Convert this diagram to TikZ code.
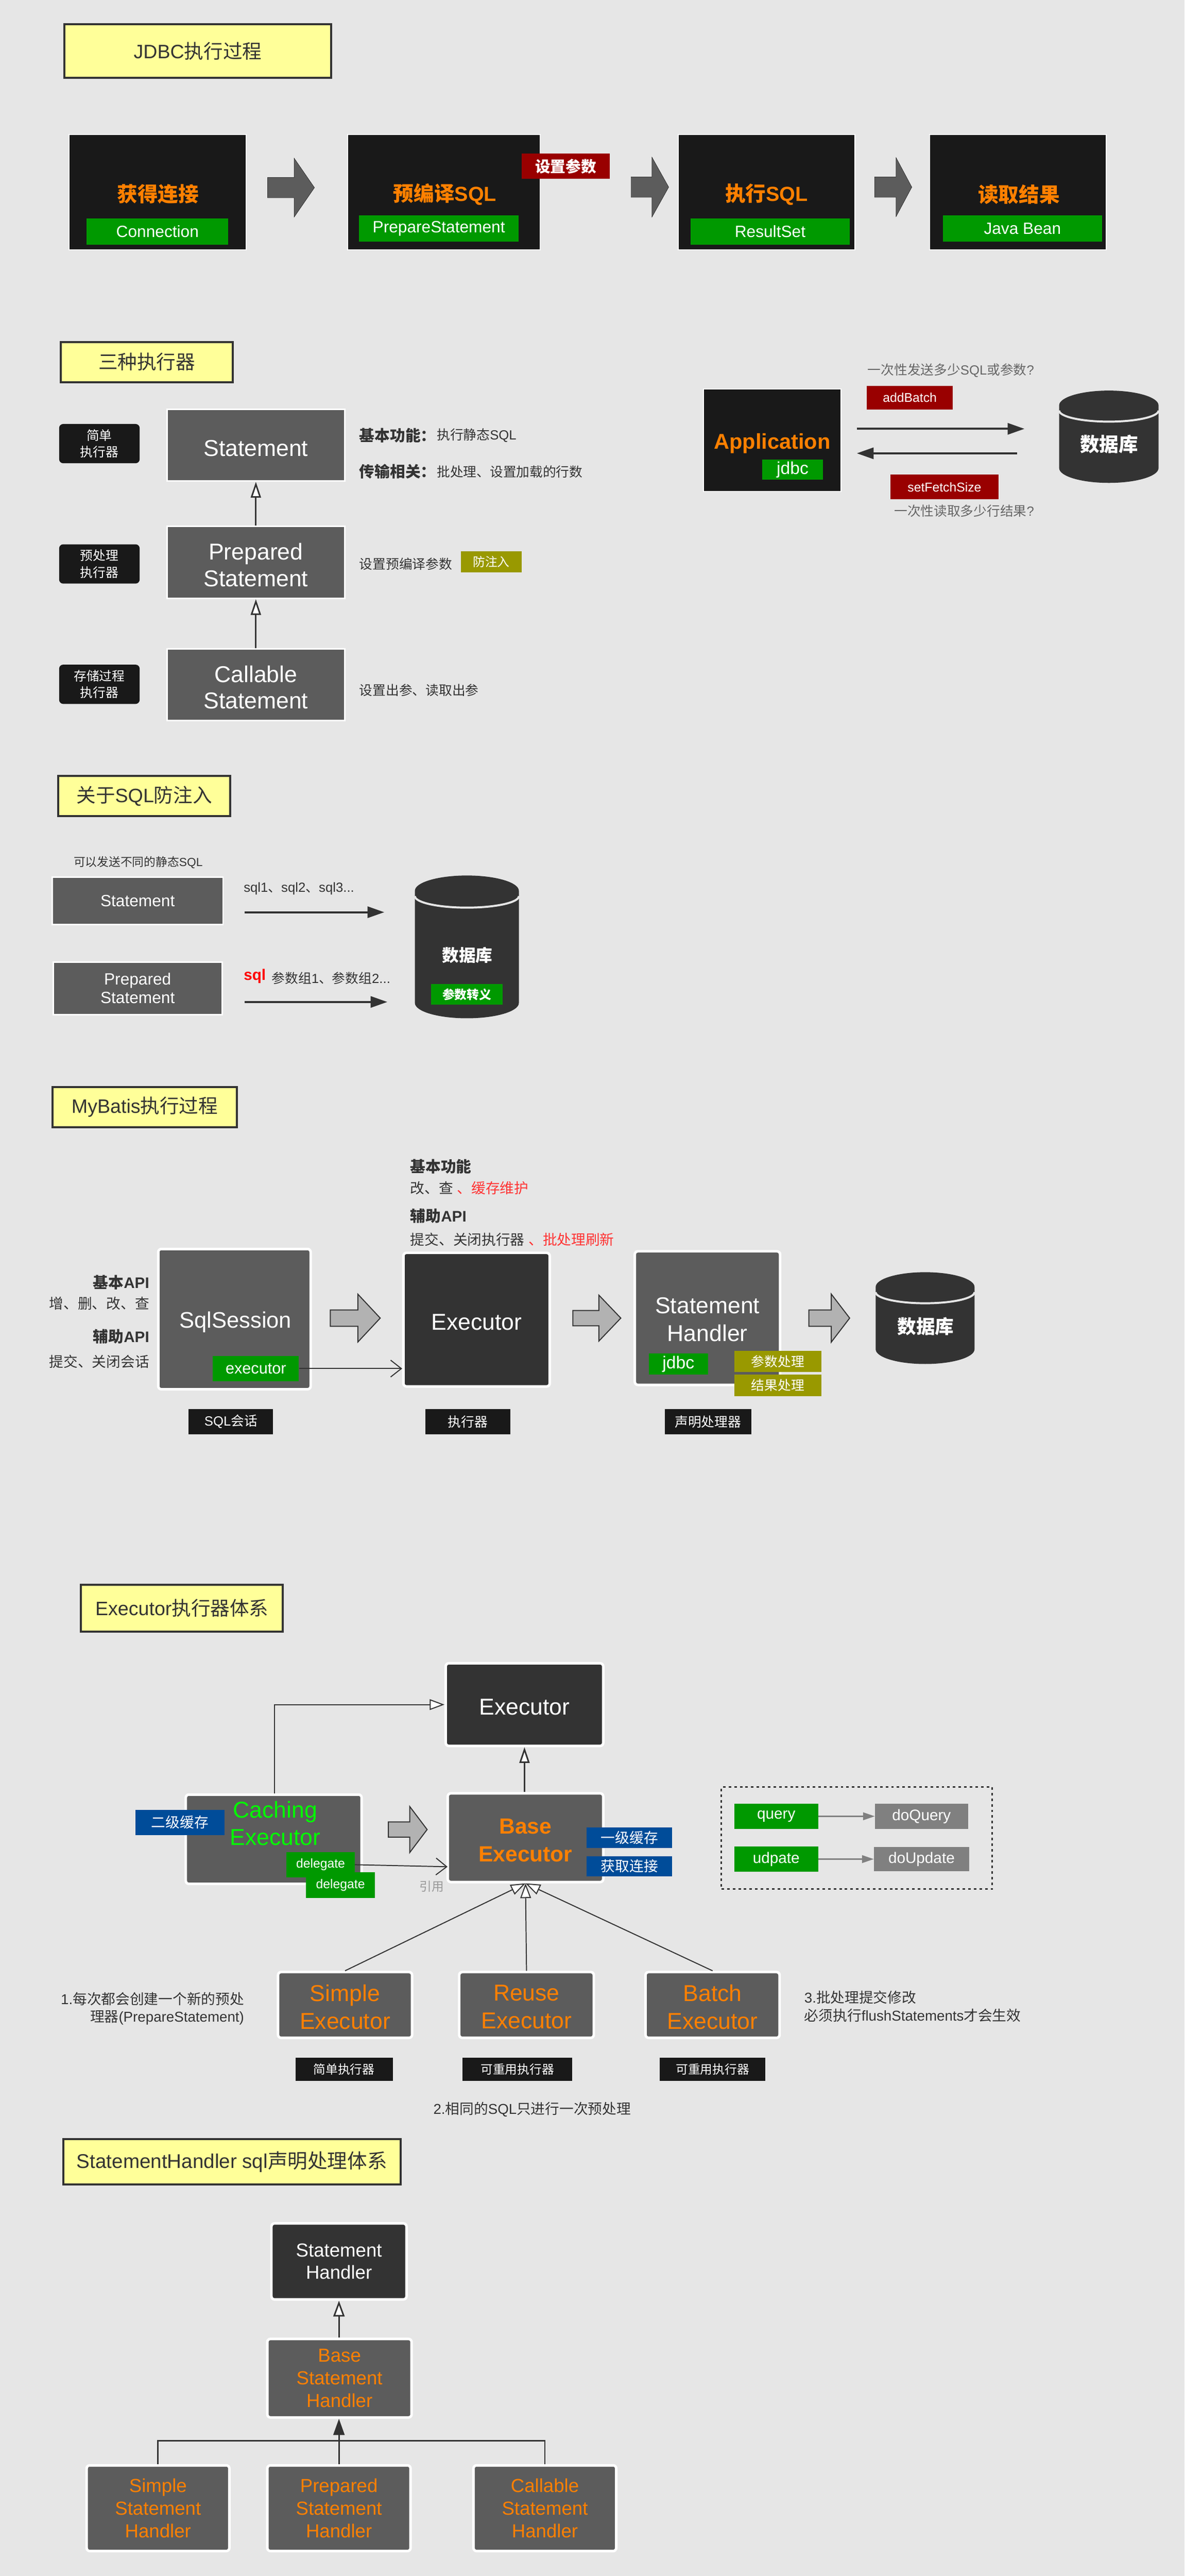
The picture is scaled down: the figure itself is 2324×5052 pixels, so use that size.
\documentclass[tikz,border=0pt]{standalone}
\usepackage{fontspec}
\setmainfont{Liberation Sans}
\newfontfamily\cjk{Noto Sans CJK SC}
\usetikzlibrary{arrows.meta}
\definecolor{pagebg}{HTML}{E6E6E6}
\definecolor{ink}{HTML}{333333}
\definecolor{coal}{HTML}{191919}
\definecolor{slab}{HTML}{5C5C5C}
\definecolor{notey}{HTML}{FFFF99}
\definecolor{orng}{HTML}{FF8000}
\definecolor{grn}{HTML}{009900}
\definecolor{wine}{HTML}{990000}
\definecolor{olive}{HTML}{999900}
\definecolor{navy}{HTML}{004C99}
\definecolor{lime}{HTML}{00FF00}
\newcommand{\zh}[1]{{\cjk #1}}
\newcommand{\fs}[2]{\fontsize{#1pt}{#2pt}\selectfont}
% args: left, shaft end, tip, centre y, shaft half, head half
\newcommand{\blockarrow}[7][]{\draw[#1] (#2,{#5-#6}) -- (#3,{#5-#6}) -- (#3,{#5-#7}) -- (#4,#5) -- (#3,{#5+#7}) -- (#3,{#5+#6}) -- (#2,{#5+#6}) -- cycle;}
% args: left, right, top, bottom, end radius
\newcommand{\dbdrum}[5]{
  \fill[ink] (#1,{#3+#5}) arc[start angle=180,end angle=0,x radius={(#2-#1)/2*1pt},y radius=#5*1pt] -- (#2,{#4-#5}) arc[start angle=0,end angle=-180,x radius={(#2-#1)/2*1pt},y radius=#5*1pt] -- cycle;
  \draw[pagebg,line width=4pt] (#1,{#3+1.35*#5}) arc[start angle=180,end angle=360,x radius={(#2-#1)/2*1pt},y radius=.75*#5*1pt];
}
\begin{document}
\begin{tikzpicture}[x=1pt,y=-1pt,
  wh/.style 2 args={minimum width=#1pt,minimum height=#2pt},
  every node/.style={inner sep=0pt},
  title/.style={draw=ink,line width=4pt,fill=notey,text=ink,font=\fs{38}{44}},
  blackbox/.style={draw=white,line width=2pt,fill=coal},
  slabbox/.style={draw=white,line width=3pt,fill=slab,text=white,align=center,font=\fs{45}{52}},
  softbox/.style={draw=white,line width=5pt,rounded corners=6pt,fill=slab,text=white,align=center,font=\fs{45}{54}},
  darkbox/.style={softbox,fill=ink},
  boxtext/.style={text=white,align=center,font=\fs{45}{52}},
  famtext/.style={text=orng,align=center,font=\fs{45}{54}},
  tag/.style={text=white,align=center,font=\fs{26}{33}},
  greentag/.style={tag,fill=grn},
  redtag/.style={tag,fill=wine},
  olivetag/.style={tag,fill=olive},
  bluetag/.style={tag,fill=navy},
  blacktag/.style={tag,fill=coal},
  side/.style={tag,fill=coal,rounded corners=8pt,font=\fs{25}{33}},
  headline/.style={text=orng,font=\fs{40}{48}\bfseries},
  note/.style={text=ink,font=\fs{26}{32},anchor=west},
  lead/.style={text=ink,font=\fs{30}{36}\bfseries,anchor=west},
  hollow/.style={draw=ink,line width=3pt,-{Triangle[length=31pt,width=20pt,fill=white]}},
  thinhollow/.style={draw=ink,line width=2pt,-{Triangle[length=29pt,width=21pt,fill=white]}},
  solidhead/.style={draw=ink,line width=4pt,-{Triangle[length=33pt,width=22pt]}},
  barb/.style={draw=ink,line width=2pt,-{Straight Barb[length=21pt,width=33pt]}},
  greyhead/.style={draw=gray,line width=2.5pt,-{Triangle[length=23pt,width=15pt]}},
  bigarrow/.style={fill=slab},
  palearrow/.style={draw=ink,line width=2pt,fill=black!30}]
\fill[pagebg] (0,0) rectangle (2324,5052);
\useasboundingbox (0,0) rectangle (2324,5052);

% JDBC
\node[title,wh={523}{105}] (jdbcTitle) at (388,100) {JDBC\zh{执行过程}};
\node[blackbox,wh={348}{226}] (conn) at (309,377) {};
\node[blackbox,wh={378}{226}] (prepc) at (871,377) {};
\node[blackbox,wh={347}{226}] (exec) at (1504,377) {};
\node[blackbox,wh={347}{226}] (read) at (1997,377) {};
\node[headline] (connT) at (310,381) {\zh{获得连接}};
\node[headline] (prepcT) at (873,381) {\zh{预编译}SQL};
\node[headline] (execT) at (1504,381) {\zh{执行}SQL};
\node[headline] (readT) at (1999,381) {\zh{读取结果}};
\node[greentag,wh={278}{52},font=\fs{32}{38}] (connS) at (309,454) {Connection};
\node[greentag,wh={313}{52},font=\fs{32}{38}] (prepcS) at (861,448) {PrepareStatement};
\node[greentag,wh={312}{52},font=\fs{32}{38}] (execS) at (1511,454) {ResultSet};
\node[greentag,wh={312}{52},font=\fs{32}{38}] (readS) at (2006,448) {Java Bean};
\node[redtag,wh={172}{49},font=\fs{30}{36}\bfseries] (setp) at (1110,326) {\zh{设置参数}};
\blockarrow[bigarrow]{525}{577}{617}{368}{20}{58}
\blockarrow[bigarrow]{1238}{1279}{1312}{367}{20}{59}
\blockarrow[bigarrow]{1716}{1758}{1789}{367}{20}{58}

% three kinds
\node[title,wh={337}{79}] (kindTitle) at (288,710) {\zh{三种执行器}};
\node[side,wh={158}{77}] (sideA) at (195,870) {\zh{简单}\\\zh{执行器}};
\node[side,wh={158}{77}] (sideB) at (195,1106) {\zh{预处理}\\\zh{执行器}};
\node[side,wh={158}{77}] (sideC) at (195,1342) {\zh{存储过程}\\\zh{执行器}};
\node[slabbox,wh={349}{141}] (stmt) at (502,873) {};
\node[slabbox,wh={349}{141}] (prep) at (502,1103) {};
\node[slabbox,wh={349}{141}] (call) at (502,1343) {};
\node[boxtext] (stmtT) at (502,879) {Statement};
\node[boxtext] (prepT) at (502,1108) {Prepared\\Statement};
\node[boxtext] (callT) at (502,1348) {Callable\\Statement};
\draw[hollow] (prep.north) -- (stmt.south);
\draw[hollow] (call.north) -- (prep.south);
\node[lead] (fnA) at (705,854) {\zh{基本功能：}};
\node[note] (fnB) at (857,854) {\zh{执行静态}SQL};
\node[lead] (xfA) at (705,925) {\zh{传输相关：}};
\node[note] (xfB) at (857,925) {\zh{批处理、设置加载的行数}};
\node[note] (prepN) at (705,1106) {\zh{设置预编译参数}};
\node[olivetag,wh={120}{41},font=\fs{24}{30}] (inj) at (964,1102) {\zh{防注入}};
\node[note] (callN) at (705,1354) {\zh{设置出参、读取出参}};
\node[blackbox,wh={270}{201}] (app) at (1515,863) {};
\node[headline,font=\fs{42}{52}\bfseries] (appT) at (1515,870) {Application};
\node[greentag,wh={120}{40},font=\fs{34}{40}] (appJ) at (1555,921) {jdbc};
\node[redtag,wh={169}{46},font=\fs{25}{30}] (addb) at (1785,780) {addBatch};
\node[redtag,wh={212}{48},font=\fs{25}{30}] (setf) at (1853,955) {setFetchSize};
\node[note,text=black!60,anchor=east] (sendN) at (2029,727) {\zh{一次性发送多少}SQL\zh{或参数}?};
\node[note,text=black!60,anchor=east] (recvN) at (2029,1002) {\zh{一次性读取多少行结果}?};
\dbdrum{2078}{2273}{766}{947}{29}
\node[text=white,font=\fs{38}{44}\bfseries] (dbA) at (2176,871) {\zh{数据库}};
\coordinate (appOut) at (1681,841);
\coordinate (dbIn) at (2010,841);
\coordinate (dbOut) at (1996,889);
\coordinate (appIn) at (1681,889);
\draw[solidhead] (appOut) -- (dbIn);
\draw[solidhead] (dbOut) -- (appIn);

% injection
\node[title,wh={337}{78}] (injTitle) at (283,1561) {\zh{关于}SQL\zh{防注入}};
\node[text=ink,font=\fs{23}{28}] (sendAny) at (271,1691) {\zh{可以发送不同的静态}SQL};
\node[slabbox,wh={335}{93},font=\fs{32}{36}] (stmtB) at (270,1767) {Statement};
\node[slabbox,wh={331}{103},font=\fs{32}{36}] (prepB) at (270,1938) {Prepared\\Statement};
\node[note,font=\fs{26}{30}] (sqlA) at (478,1743) {sql1\zh{、}sql2\zh{、}sql3...};
\node[anchor=west,text=red,font=\fs{30}{36}\bfseries] (sqlB) at (478,1915) {sql};
\node[note,font=\fs{26}{30}] (sqlC) at (533,1918) {\zh{参数组}1\zh{、}\zh{参数组}2...};
\coordinate (stmtFrom) at (480,1789);
\coordinate (stmtTo) at (754,1789);
\coordinate (prepFrom) at (480,1965);
\coordinate (prepTo) at (760,1965);
\draw[solidhead] (stmtFrom) -- (stmtTo);
\draw[solidhead] (prepFrom) -- (prepTo);
\dbdrum{814}{1018}{1717}{1997}{30}
\node[text=white,font=\fs{33}{40}\bfseries] (dbB) at (917,1873) {\zh{数据库}};
\node[greentag,wh={141}{40},font=\fs{24}{30}\bfseries] (esc) at (916,1950) {\zh{参数转义}};

% MyBatis
\node[title,wh={361}{79}] (myTitle) at (284,2171) {MyBatis\zh{执行过程}};
\node[lead] (mfA) at (805,2288) {\zh{基本功能}};
\node[note,font=\fs{28}{32}] (mfB) at (805,2330) {\zh{改、查} \textcolor{red!80}{\zh{、缓存维护}}};
\node[lead] (mxA) at (805,2385) {\zh{辅助}API};
\node[note,font=\fs{28}{32}] (mxB) at (805,2431) {\zh{提交、关闭执行器} \textcolor{red!80}{\zh{、批处理刷新}}};
\node[lead,anchor=east] (lfA) at (293,2515) {\zh{基本}API};
\node[note,anchor=east,font=\fs{28}{32}] (lfB) at (293,2556) {\zh{增、删、改、查}};
\node[lead,anchor=east] (lxA) at (293,2621) {\zh{辅助}API};
\node[note,anchor=east,font=\fs{28}{32}] (lxB) at (293,2670) {\zh{提交、关闭会话}};
\node[softbox,wh={299}{275}] (sess) at (460,2587) {};
\node[darkbox,wh={287}{262}] (exor) at (935,2588) {};
\node[softbox,wh={285}{262}] (shnd) at (1388,2585) {};
\node[text=white,font=\fs{44}{52}] (sessT) at (462,2593) {SqlSession};
\node[text=white,font=\fs{45}{52}] (exorT) at (935,2593) {Executor};
\node[text=white,align=center,font=\fs{45}{55}] (shndT) at (1388,2588) {Statement\\Handler};
\node[greentag,wh={169}{50},font=\fs{31}{36}] (sessE) at (502,2684) {executor};
\node[greentag,wh={116}{42},font=\fs{34}{40}] (shndJ) at (1331,2675) {jdbc};
\node[olivetag,wh={171}{41}] (parm) at (1526,2670) {\zh{参数处理}};
\node[olivetag,wh={171}{42}] (rslt) at (1526,2717) {\zh{结果处理}};
\draw[barb] (sessE.east) -- (exor.west |- sessE.east);
\blockarrow[palearrow]{648}{702}{746}{2585}{16}{47}
\blockarrow[palearrow]{1124}{1175}{1218}{2585}{15}{45}
\blockarrow[palearrow]{1587}{1631}{1667}{2585}{16}{47}
\dbdrum{1718}{1912}{2495}{2675}{29}
\node[text=white,font=\fs{37}{44}\bfseries] (dbC) at (1816,2601) {\zh{数据库}};
\node[blacktag,wh={166}{49}] (tagS) at (453,2788) {SQL\zh{会话}};
\node[blacktag,wh={167}{49}] (tagE) at (918,2788) {\zh{执行器}};
\node[blacktag,wh={170}{49}] (tagH) at (1389,2788) {\zh{声明处理器}};

% Executor family
\node[title,wh={396}{92}] (famTitle) at (357,3154) {Executor\zh{执行器体系}};
\node[darkbox,wh={309}{162}] (exTop) at (1029,3343) {};
\node[softbox,wh={305}{174}] (base) at (1031,3604) {};
\node[softbox,wh={345}{175},anchor=north] (cach) at (537,3517) {};
\node[softbox,wh={263}{129}] (simp) at (677,3932) {};
\node[softbox,wh={264}{129}] (reus) at (1033,3932) {};
\node[softbox,wh={263}{129}] (bat) at (1398,3932) {};
\node[boxtext] (exTopT) at (1029,3348) {Executor};
\node[famtext,font=\fs{43}{54}\bfseries] (baseT) at (1031,3609) {Base\\Executor};
\node[famtext,text=lime] (cachT) at (540,3576) {Caching\\Executor};
\node[famtext] (simpT) at (677,3936) {Simple\\Executor};
\node[famtext] (reusT) at (1033,3936) {Reuse\\Executor};
\node[famtext] (batT) at (1398,3936) {Batch\\Executor};
\node[bluetag,wh={175}{49},font=\fs{28}{34}] (lvlB) at (353,3574) {\zh{二级缓存}};
\node[greentag,wh={134}{50},font=\fs{25}{30}] (delA) at (629,3657) {delegate};
\node[greentag,wh={135}{50},font=\fs{25}{30}] (delB) at (668,3697) {delegate};
\node[bluetag,wh={168}{40},font=\fs{28}{34}] (lvlA) at (1235,3604) {\zh{一级缓存}};
\node[bluetag,wh={168}{40},font=\fs{28}{34}] (getc) at (1235,3660) {\zh{获取连接}};
\node[text=black!40,font=\fs{24}{30}] (ref) at (847,3700) {\zh{引用}};
\blockarrow[palearrow]{762}{804}{838}{3588}{15}{45}
\coordinate (cachUp) at (539,3517);
\coordinate (baseRef) at (878,3661);
\draw[thinhollow] (cachUp) |- (exTop.west);
\draw[hollow] (base.north -| exTop.south) -- (exTop.south);
\draw[barb] (delA.east) -- (baseRef);
\draw[thinhollow] (simp.north) -- (base.south);
\draw[thinhollow] (reus.north) -- (base.south);
\draw[thinhollow] (bat.north) -- (base.south);
\node[draw=ink,line width=3pt,dash pattern=on 5pt off 6pt,wh={531}{200}] (frame) at (1681,3605) {};
\node[greentag,wh={165}{50},font=\fs{30}{36}] (qry) at (1523,3562) {query};
\node[greentag,wh={165}{50},font=\fs{30}{36}] (upd) at (1523,3646) {udpate};
\node[tag,fill=gray,wh={183}{50},font=\fs{30}{36}] (doq) at (1808,3562) {doQuery};
\node[tag,fill=gray,wh={187}{48},font=\fs{30}{36}] (dou) at (1808,3646) {doUpdate};
\draw[greyhead] (qry) -- (doq);
\draw[greyhead] (upd) -- (dou);
\node[note,anchor=east,align=right,font=\fs{28}{34}] (noteA) at (479,3939) {1.\zh{每次都会创建一个新的预处}\\\zh{理器}(PrepareStatement)};
\node[note,align=left,font=\fs{28}{35}] (noteC) at (1578,3935) {3.\zh{批处理提交修改}\\\zh{必须执行}flushStatements\zh{才会生效}};
\node[note,anchor=center,font=\fs{28}{34}] (noteB) at (1044,4137) {2.\zh{相同的}SQL\zh{只进行一次预处理}};
\node[blacktag,wh={191}{46},font=\fs{24}{30}] (tagSi) at (675,4058) {\zh{简单执行器}};
\node[blacktag,wh={216}{46},font=\fs{24}{30}] (tagRe) at (1015,4058) {\zh{可重用执行器}};
\node[blacktag,wh={207}{46},font=\fs{24}{30}] (tagBa) at (1398,4058) {\zh{可重用执行器}};

% StatementHandler family
\node[title,wh={662}{89},font=\fs{39}{44}] (shTitle) at (455,4240) {StatementHandler sql\zh{声明处理体系}};
\node[darkbox,wh={265}{149},font=\fs{37}{44}] (shTop) at (665,4435) {Statement\\Handler};
\node[softbox,wh={283}{154},text=orng,font=\fs{37}{44}] (shBase) at (666,4664) {Base\\Statement\\Handler};
\node[softbox,wh={280}{168},text=orng,font=\fs{37}{44}] (shSim) at (310,4919) {Simple\\Statement\\Handler};
\node[softbox,wh={281}{168},text=orng,font=\fs{37}{44}] (shPre) at (665,4919) {Prepared\\Statement\\Handler};
\node[softbox,wh={280}{168},text=orng,font=\fs{37}{44}] (shCal) at (1069,4919) {Callable\\Statement\\Handler};
\draw[hollow,-{Triangle[length=31pt,width=22pt,fill=white]}] (shBase.north -| shTop.south) -- (shTop.south);
\coordinate (shBus) at (665,4787);
\draw[draw=ink,line width=3pt,-{Triangle[length=32pt,width=22pt]}] (shPre.north) -- (shBase.south -| shPre.north);
\draw[draw=ink,line width=3pt] (shSim.north) |- (shBus) -| (shCal.north);
\end{tikzpicture}
\end{document}
